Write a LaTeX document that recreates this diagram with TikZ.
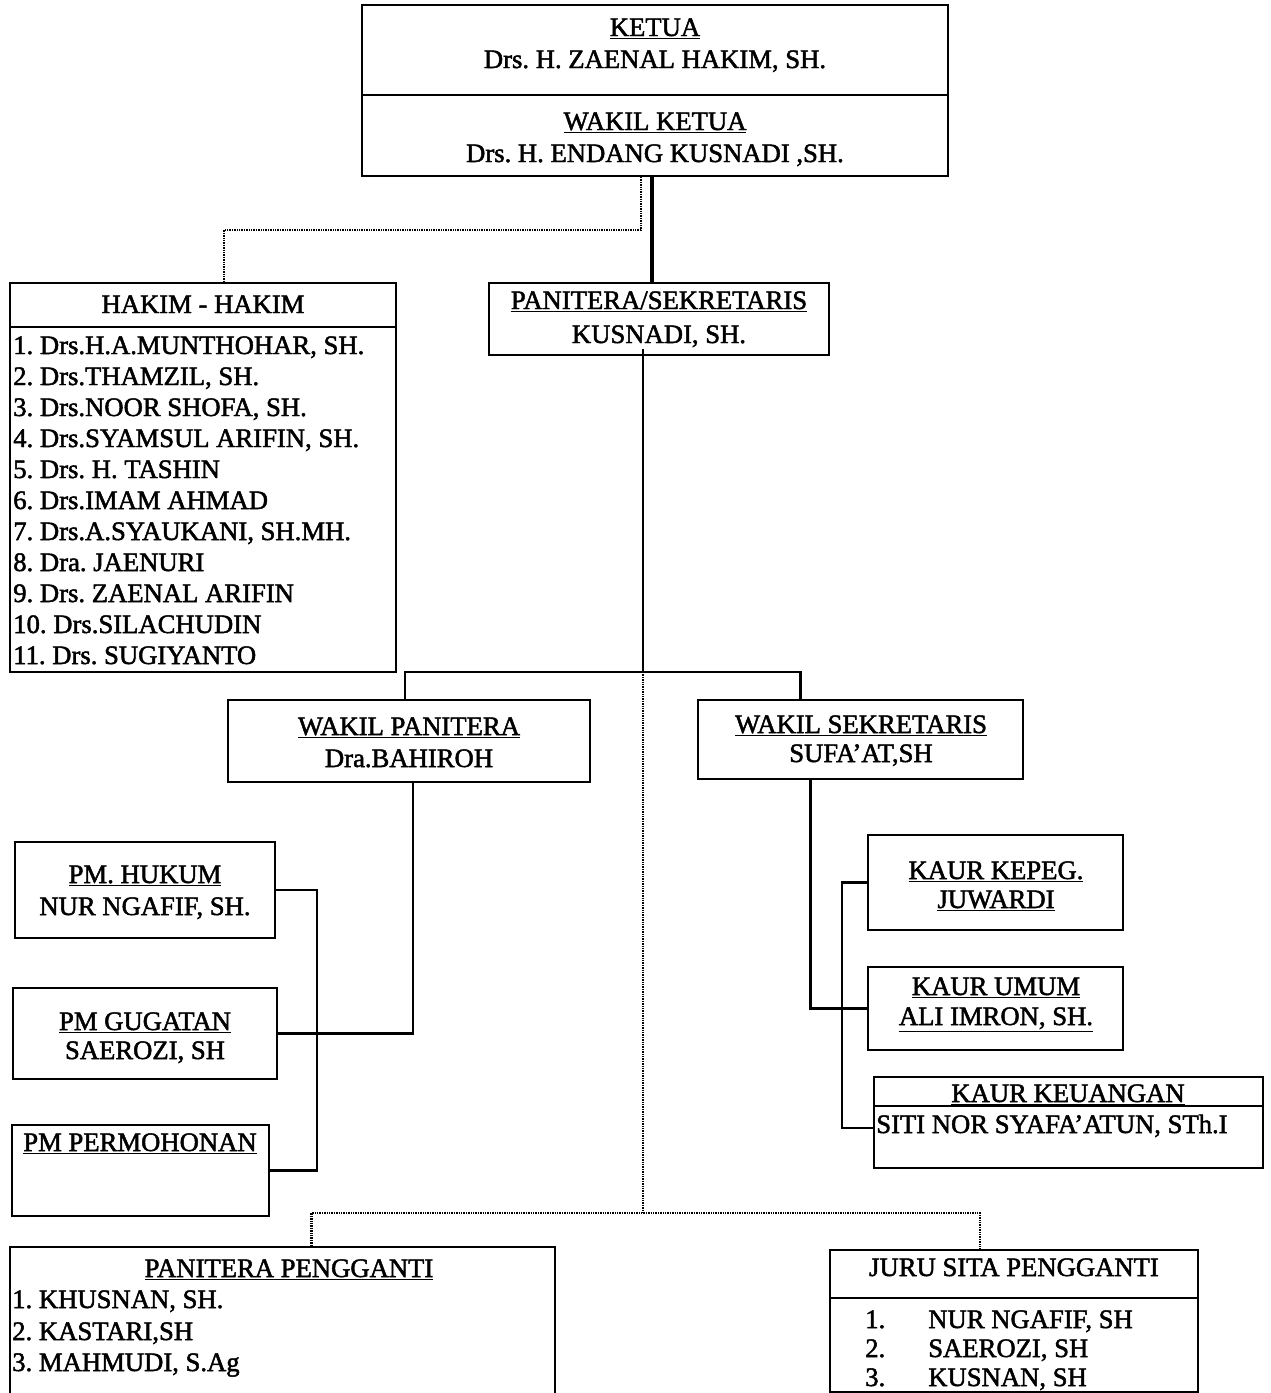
\documentclass[tikz,border=0pt]{standalone}
\usepackage{fontspec}
\setmainfont{Liberation Serif}[RawFeature={embolden=1.8}]
\usetikzlibrary{fit,calc}
\newcommand{\chartsize}{\fontsize{20}{23}\selectfont\frenchspacing}
\begin{document}
\begin{tikzpicture}[x=0.75pt,y=-0.75pt,
  box/.style={draw, line width=1.5pt, inner sep=0pt},
  txt/.style={inner sep=0pt, anchor=base, font=\chartsize},
  ltxt/.style={txt, anchor=base west},
  link/.style={line width=1.6pt},
  mainlink/.style={line width=3pt},
  dotlink/.style={line width=1.8pt, dash pattern=on 1.1pt off 0.7pt}]
\path[use as bounding box] (0,0) rectangle (1271,1393);
\clip (0,0) rectangle (1271,1393);

% boxes
\node[box, fit={(362,5) (948,95)}] (ketua) {};
\node[box, fit={(362,95) (948,176)}] (wketua) {};
\node[box, fit={(10,283) (396,327)}] (hakimh) {};
\node[box, fit={(10,327) (396,672)}] (hakim) {};
\node[box, fit={(489,283) (829,355)}] (panitera) {};
\node[box, fit={(228,700) (590,782)}] (wpan) {};
\node[box, fit={(698,700) (1023,779)}] (wsek) {};
\node[box, fit={(15,842) (275,938)}] (pmh) {};
\node[box, fit={(13,988) (277,1079)}] (pmg) {};
\node[box, fit={(12,1125) (269,1216)}] (pmp) {};
\node[box, fit={(868,835) (1123,930)}] (kkepeg) {};
\node[box, fit={(868,967) (1123,1050)}] (kumum) {};
\node[box, fit={(874,1077) (1263,1106)}] (kkeuh) {};
\node[box, fit={(874,1106) (1263,1168)}] (kkeu) {};
\node[box, fit={(10,1247) (555,1420)}] (pp) {};
\node[box, fit={(830,1250) (1198,1298)}] (jsh) {};
\node[box, fit={(830,1298) (1198,1392)}] (js) {};

% texts
\node[txt] (tketua) at (655,36) {\underline{KETUA}};
\node[txt] (tketuan) at (655,68) {Drs. H. ZAENAL HAKIM, SH.};
\node[txt] (twketua) at (655,130) {\underline{WAKIL KETUA}};
\node[txt] (twketuan) at (655,162) {Drs. H. ENDANG KUSNADI ,SH.};

\node[txt] (thakim) at (203,313) {HAKIM - HAKIM};
\node[ltxt] (h1) at (13,354) {1. Drs.H.A.MUNTHOHAR, SH.};
\node[ltxt] (h2) at (13,385) {2. Drs.THAMZIL, SH.};
\node[ltxt] (h3) at (13,416) {3. Drs.NOOR SHOFA, SH.};
\node[ltxt] (h4) at (13,447) {4. Drs.SYAMSUL ARIFIN, SH.};
\node[ltxt] (h5) at (13,478) {5. Drs. H. TASHIN};
\node[ltxt] (h6) at (13,509) {6. Drs.IMAM AHMAD};
\node[ltxt] (h7) at (13,540) {7. Drs.A.SYAUKANI, SH.MH.};
\node[ltxt] (h8) at (13,571) {8. Dra. JAENURI};
\node[ltxt] (h9) at (13,602) {9. Drs. ZAENAL ARIFIN};
\node[ltxt] (h10) at (13,633) {10. Drs.SILACHUDIN};
\node[ltxt] (h11) at (13,664) {11. Drs. SUGIYANTO};

\node[txt] (tpan) at (659,309) {\underline{PANITERA/SEKRETARIS}};
\node[txt] (tpann) at (659,343) {KUSNADI, SH.};

\node[txt] (twpan) at (409,735) {\underline{WAKIL PANITERA}};
\node[txt] (twpann) at (409,767) {Dra.BAHIROH};
\node[txt] (twsek) at (861,733) {\underline{WAKIL SEKRETARIS}};
\node[txt] (twsekn) at (861,762) {SUFA’AT,SH};

\node[txt] (tpmh) at (145,883) {\underline{PM. HUKUM}};
\node[txt] (tpmhn) at (145,915) {NUR NGAFIF, SH.};
\node[txt] (tpmg) at (145,1030) {\underline{PM GUGATAN}};
\node[txt] (tpmgn) at (145,1059) {SAEROZI, SH};
\node[txt] (tpmp) at (140,1151) {\underline{PM PERMOHONAN}};

\node[txt] (tkk) at (996,879) {\underline{KAUR KEPEG.}};
\node[txt] (tkkn) at (996,908) {\underline{JUWARDI}};
\node[txt] (tku) at (996,995) {\underline{KAUR UMUM}};
\node[txt] (tkun) at (996,1025) {\underline{ALI IMRON, SH.}};
\node[txt] (tkkeu) at (1068,1102) {\underline{KAUR KEUANGAN}};
\node[ltxt] (tkkeun) at (876,1133) {SITI NOR SYAFA’ATUN, STh.I};

\node[txt] (tpp) at (289,1277) {\underline{PANITERA PENGGANTI}};
\node[ltxt] (p1) at (12,1308) {1. KHUSNAN, SH.};
\node[ltxt] (p2) at (12,1340) {2. KASTARI,SH};
\node[ltxt] (p3) at (12,1371) {3. MAHMUDI, S.Ag};

\node[txt] (tjs) at (1014,1276) {JURU SITA PENGGANTI};
\node[ltxt] (j1n) at (865,1328) {1.};
\node[ltxt] (j1t) at (928,1328) {NUR NGAFIF, SH};
\node[ltxt] (j2n) at (865,1357) {2.};
\node[ltxt] (j2t) at (928,1357) {SAEROZI, SH};
\node[ltxt] (j3n) at (865,1386) {3.};
\node[ltxt] (j3t) at (928,1386) {KUSNAN, SH};

% connectors
\coordinate (ja) at (643,672);
\coordinate (jb) at (643,1213);
\draw[mainlink] ($(wketua.south)+(-3,0)$) -- ($(panitera.north)+(-7,0)$);
\draw[dotlink] ($(wketua.south)+(-14,0)$) -- ++(0,53) -| ($(hakimh.north)+(21,0)$);
\draw[link] ($(panitera.south)+(-16,-7)$) -- (ja);
\draw[link] ($(wpan.north)+(-4,0)$) |- (ja) -| ($(wsek.north)+(-60,0)$);
\draw[dotlink] (ja) -- (jb);
\draw[dotlink] ($(pp.north)+(29,0)$) |- (jb) -| ($(jsh.north)+(-34,0)$);
\draw[link] ($(wpan.south)+(4,0)$) |- (pmg.east);
\draw[link] (pmh.east) -- ++(41,0) |- (pmp.east);
\draw[link] ($(wsek.south)+(-50,0)$) |- (kumum.west);
\draw[link] (kkepeg.west) -- ++(-25,0) |- ($(kkeu.west)+(0,-9)$);
\end{tikzpicture}
\end{document}
